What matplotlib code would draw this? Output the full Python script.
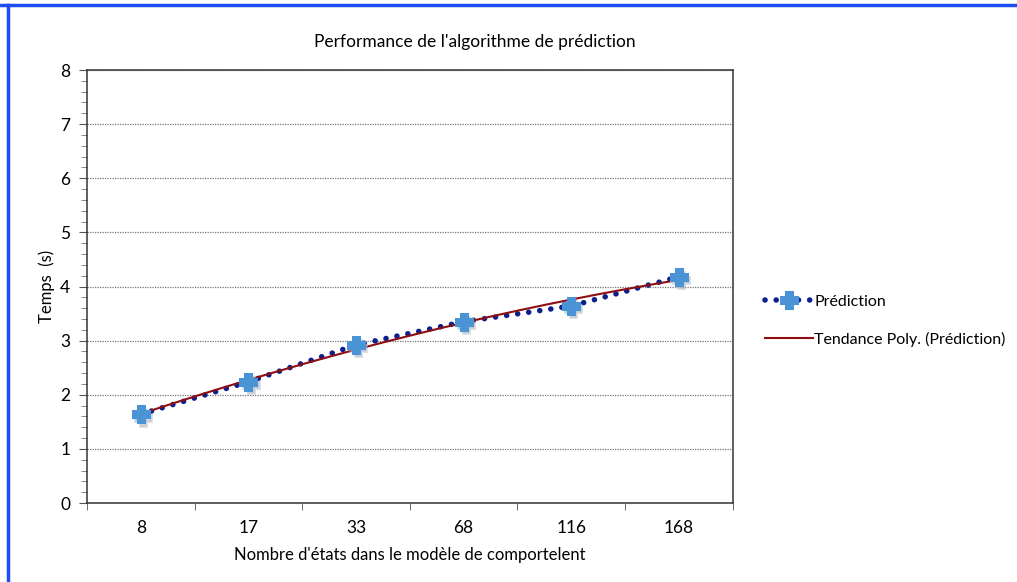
import numpy as np
import matplotlib.pyplot as plt
from matplotlib.ticker import MultipleLocator

plt.rcParams['font.family'] = ['Lato', 'DejaVu Sans']

etats = ["8", "17", "33", "68", "116", "168"]
temps = [1.64, 2.24, 2.92, 3.35, 3.64, 4.18]

x = np.arange(len(etats))
fs = 12.5

fig = plt.figure(figsize=(10.17, 5.82), dpi=100)
ax = fig.add_axes([0.0855, 0.1357, 0.635, 0.744])

# courbe de tendance polynomiale (ordre 2), comme dans Excel
coef = np.polyfit(x + 1, temps, 2)
xs = np.linspace(0, len(etats) - 1, 200)
ax.plot(xs, np.polyval(coef, xs + 1), color='#8e0f12', lw=1.5, zorder=3)

dots = dict(color='#0d1f8c', lw=4, linestyle=(0, (0.01, 2.0)),
            dash_capstyle='round')
ax.plot(x, temps, zorder=2, **dots)
# ombre des marqueurs
ax.plot(x + 0.02, np.array(temps) - 0.06, 'P', ms=12, color='#aab6c2',
        mec='#aab6c2', mew=2, alpha=0.45, zorder=3)
mk = dict(marker='P', ms=12, mfc='#4a94d6', mec='#4a94d6', mew=2.2)
ax.plot(x, temps, linestyle='none', zorder=4, **mk)

ax.set_xlim(-0.5, len(etats) - 0.5)
ax.set_ylim(0, 8)
ax.set_xticks(x)
ax.set_xticklabels(etats)
ax.set_xticks(np.arange(-0.5, len(etats)), minor=True)
ax.tick_params(axis='x', which='major', length=0, pad=12, labelsize=fs)
ax.tick_params(axis='x', which='minor', length=5, direction='out', color='#555555')
ax.yaxis.set_major_locator(MultipleLocator(1))
ax.yaxis.set_minor_locator(MultipleLocator(0.2))
ax.tick_params(axis='y', which='major', length=6, direction='out', pad=6,
               labelsize=fs, color='#555555')
ax.tick_params(axis='y', which='minor', length=4, direction='out', color='#777777')

ax.grid(axis='y', which='major', color='#777777', linestyle=(0, (1, 1)), lw=0.9)
ax.set_axisbelow(True)
for s in ax.spines.values():
    s.set_color('#333333')
    s.set_linewidth(1.1)

ax.set_xlabel("Nombre d'états dans le modèle de comportelent", fontsize=12,
              labelpad=8)
ax.set_ylabel("Temps  (s)", fontsize=12, labelpad=4)
fig.text(475 / 1017, 1 - 42 / 582, "Performance de l'algorithme de prédiction",
         ha='center', va='center', fontsize=fs)

# légende
h1 = ax.plot([], [], **dots, **mk)[0]
h2 = ax.plot([], [], color='#8e0f12', lw=1.5)[0]
fig.legend([h1, h2], ['Prédiction', 'Tendance Poly. (Prédiction)'],
           loc='center left', bbox_to_anchor=(0.738, 0.449), frameon=False,
           fontsize=11.5, handlelength=3.0, handletextpad=0.1, labelspacing=1.45)

# cadre bleu
fig.add_artist(plt.Line2D([0, 1], [1 - 5 / 582, 1 - 5 / 582], color='#1f4df5',
                          lw=2.5, transform=fig.transFigure))
fig.add_artist(plt.Line2D([8 / 1017, 8 / 1017], [0, 1 - 5 / 582], color='#1f4df5',
                          lw=2.5, transform=fig.transFigure))

fig.savefig('out.png', dpi=100)
